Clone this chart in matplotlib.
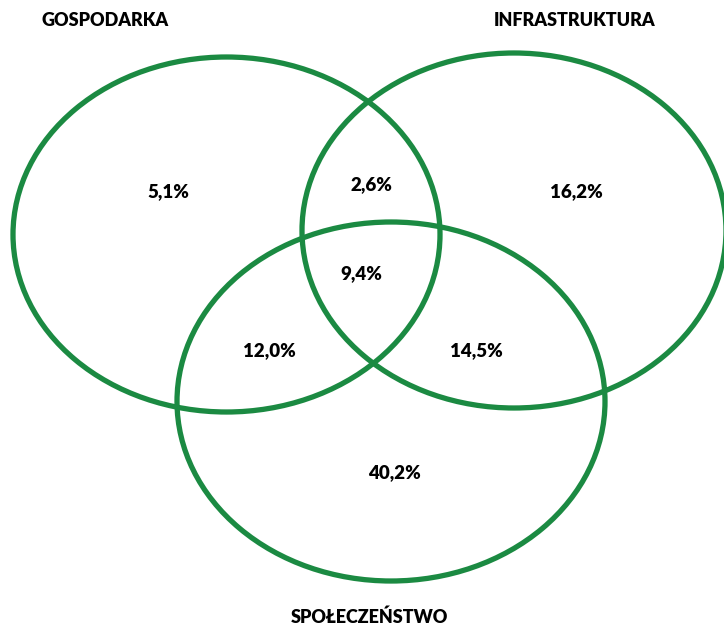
import matplotlib.pyplot as plt
from matplotlib.patches import Ellipse

# set names and their label positions (pixel coords of 724x627 canvas)
set_names = ["GOSPODARKA", "INFRASTRUKTURA", "SPOŁECZEŃSTWO"]
set_label_xy = [(105, 20), (575, 20), (369, 617)]

# ellipses: center x, center y, width, height
ellipses = [
    (226.5, 234.5, 427, 355),
    (514, 230.5, 424, 355),
    (391, 401.5, 428, 359),
]

# region shares
region_values = ["5,1%", "2,6%", "16,2%", "9,4%", "12,0%", "14,5%", "40,2%"]
region_xy = [(168, 192), (371, 185), (576, 192), (361, 274),
             (269, 351), (476, 351), (394, 473)]

green = "#1b8a42"

fig = plt.figure(figsize=(7.24, 6.27), dpi=100)
ax = fig.add_axes([0, 0, 1, 1])
ax.set_xlim(0, 724)
ax.set_ylim(627, 0)
ax.axis("off")

for cx, cy, w, h in ellipses:
    ax.add_patch(Ellipse((cx, cy), w, h, fill=False, edgecolor=green, lw=3.8))

for name, (x, y) in zip(set_names, set_label_xy):
    ax.text(x, y, name, ha="center", va="center", fontsize=13,
            fontweight="heavy", family="Lato")

for val, (x, y) in zip(region_values, region_xy):
    ax.text(x, y, val, ha="center", va="center", fontsize=13.5,
            fontweight="heavy", family="Lato")

fig.savefig("out.png", dpi=100)
